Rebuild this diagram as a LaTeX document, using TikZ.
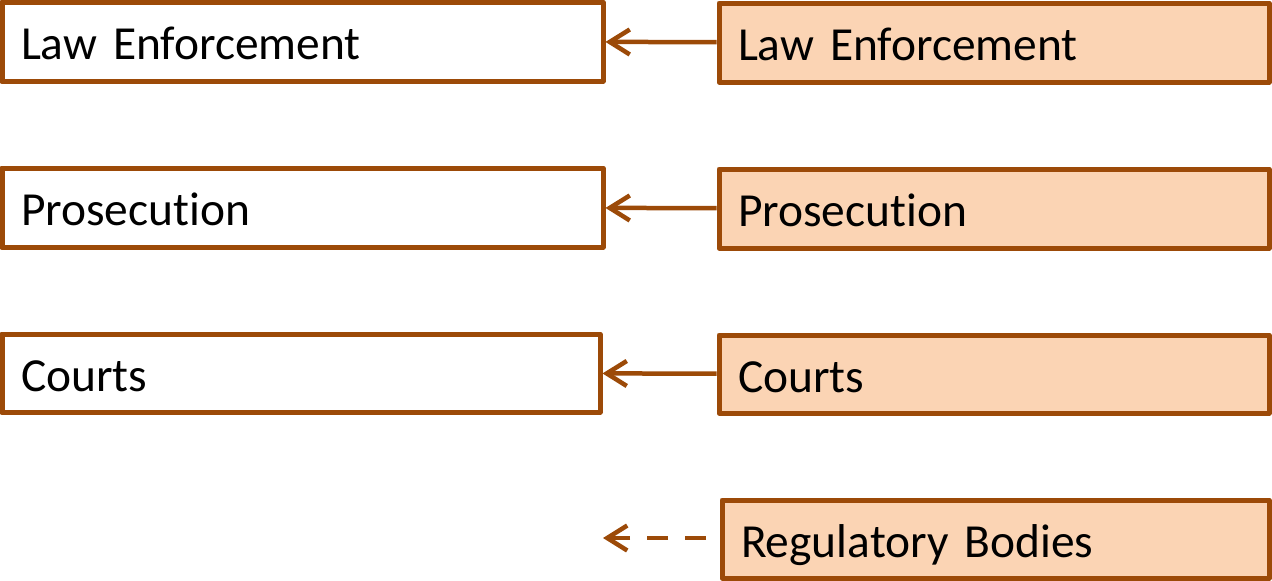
\documentclass[tikz,border=0pt]{standalone}
\usepackage{fontspec}
\setmainfont[Ligatures=NoCommon,WordSpace=0.8]{Carlito}
\usetikzlibrary{arrows.meta}
\definecolor{rust}{HTML}{9C4A08}
\definecolor{peach}{HTML}{FBD4B4}

\begin{document}
\begin{tikzpicture}[>={Straight Barb[length=4mm,width=5mm]},line join=round,
  font=\fontsize{27}{32}\selectfont,
  sysbox/.style={draw=rust,line width=0.1cm,minimum height=1.58cm,inner xsep=0.38cm,
    text height=0.9cm,text depth=0.18cm,align=left},
  srcbox/.style={sysbox,fill=peach},
  link/.style={->,draw=rust,line width=0.09cm}]
\useasboundingbox (0,0) rectangle (25.44,-11.6);
% left column
\node[sysbox,text width=11.26cm] (lawL) at (6.05,-0.83) {Law Enforcement};
\node[sysbox,text width=11.26cm] (proL) at (6.05,-4.15) {Prosecution};
\node[sysbox,text width=11.2cm,minimum height=1.56cm] (crtL) at (6.02,-7.46) {Courts};
% right column
\node[srcbox,text width=10.24cm] (lawR) at (19.88,-0.85) {Law Enforcement};
\node[srcbox,text width=10.24cm] (proR) at (19.88,-4.17) {Prosecution};
\node[srcbox,text width=10.24cm,minimum height=1.56cm] (crtR) at (19.88,-7.48) {Courts};
\node[srcbox,text width=10.18cm,minimum height=1.56cm] (regR) at (19.91,-10.78) {Regulatory Bodies};
\coordinate (regA) at (12.06,-10.76);
\coordinate (regB) at (14.12,-10.76);
% arrows
\draw[link] (lawR) -- (lawL);
\draw[link] (proR) -- (proL);
\draw[link] (crtR) -- (crtL);
\draw[link,dash pattern=on 0.42cm off 0.34cm] (regB) -- (regA);
\end{tikzpicture}
\end{document}
